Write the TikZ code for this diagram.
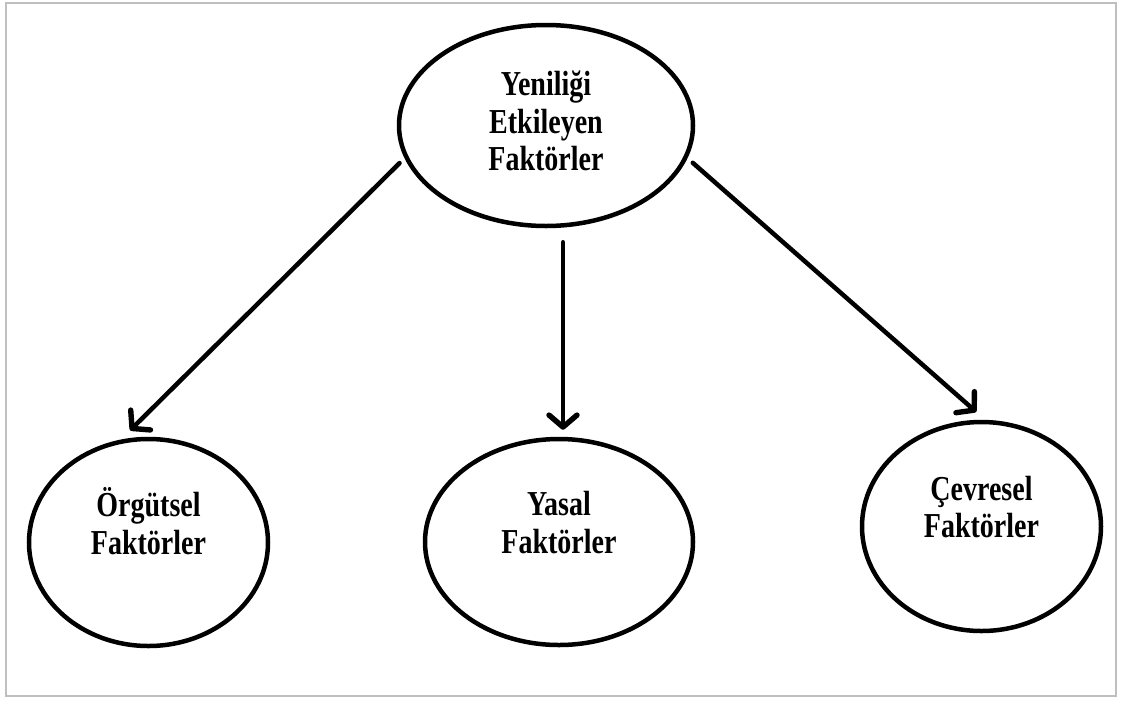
\documentclass[tikz,border=0pt]{standalone}
\usepackage{fontspec}
\setmainfont{Liberation Serif}
\usetikzlibrary{shapes.geometric,arrows.meta}
\newcommand{\ftext}[1]{\scalebox{1}[1.25]{\begin{tabular}{@{}c@{}}#1\end{tabular}}}
\tikzset{
	factor/.style={draw, ellipse, line width=4.5pt, inner sep=0pt},
	factortext/.style={font=\fontsize{28}{30}\selectfont\bfseries, inner sep=0pt},
	link/.style={line width=4.5pt, line cap=round, -{Straight Barb[length=12pt,width=28pt,line width=0pt 1.2,round]}},
}
\begin{document}
\begin{tikzpicture}[x=1pt,y=-1pt]
	\useasboundingbox (0,0) rectangle (1122,702);
	\draw[gray!50, line width=2.5pt] (6,3) rectangle (1116,696);
	% ellipses
	\node[factor, minimum width=294pt, minimum height=201pt] (yenilik) at (546,125.5) {};
	\node[factor, minimum width=239pt, minimum height=207pt] (orgut) at (148.5,542.5) {};
	\node[factor, minimum width=268pt, minimum height=206pt] (yasal) at (559,542) {};
	\node[factor, minimum width=239pt, minimum height=209pt] (cevre) at (981.5,526.5) {};
	% texts
	\node[factortext] at (yenilik.center) {\ftext{Yeniliği\\Etkileyen\\Faktörler}};
	\node[factortext] at ([yshift=16pt]orgut.center) {\ftext{Örgütsel\\Faktörler}};
	\node[factortext] at ([yshift=15pt]yasal.center) {\ftext{Yasal\\Faktörler}};
	\node[factortext] at ([yshift=15pt]cevre.center) {\ftext{Çevresel\\Faktörler}};
	% arrows
	\draw[link, shorten <=7pt, shorten >=13pt] (yenilik.193) -- (orgut.105);
	\draw[link, shorten <=14pt, shorten >=7pt] ([xshift=4pt]yenilik.south -| yasal.north) -- ([xshift=4pt]yasal.north);
	\draw[link, shorten <=7pt, shorten >=12pt] (yenilik.-13) -- (cevre.88);
\end{tikzpicture}
\end{document}
